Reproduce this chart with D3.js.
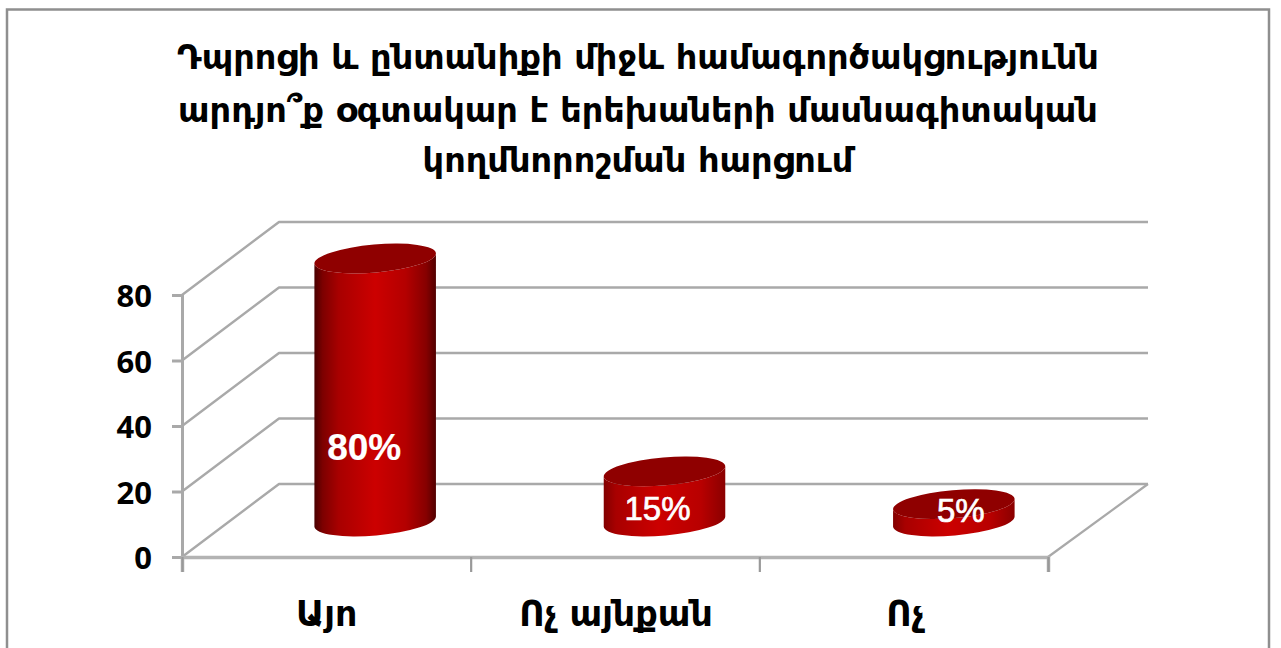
<!DOCTYPE html>
<html><head><meta charset="utf-8">
<script src="https://cdn.jsdelivr.net/npm/d3@7"></script>
<style>html,body{margin:0;padding:0;background:#fff;overflow:hidden}svg{display:block}</style>
</head><body><svg id="c" width="1281" height="648"></svg>
<script>
const titleLines = ["Դպրոցի և ընտանիքի միջև համագործակցությունն","արդյո՞ք օգտակար է երեխաների մասնագիտական","կողմնորոշման հարցում"];
const categories = ["Այո","Ոչ այնքան","Ոչ"];
const values = [80,15,5];
const valueLabels = ["80%","15%","5%"];
const yTicks = [0,20,40,60,80];

const svg = d3.select("#c");
const defs = svg.append("defs");
defs.append("filter").attr("id","soft").append("feGaussianBlur").attr("stdDeviation",0.6);
const grad = defs.append("linearGradient").attr("id","cyl");
[[0,"#4a0000"],[0.07,"#7d0000"],[0.2,"#a80000"],[0.5,"#cc0000"],[0.75,"#b40000"],[0.92,"#860000"],[1,"#520000"]]
 .forEach(([o,c])=>grad.append("stop").attr("offset",o).attr("stop-color",c));
const grad2 = defs.append("linearGradient").attr("id","cylShort");
[[0,"#820000"],[0.1,"#a80000"],[0.45,"#cc0000"],[0.8,"#b80000"],[1,"#8a0000"]]
 .forEach(([o,c])=>grad2.append("stop").attr("offset",o).attr("stop-color",c));

const frame = {l:7,t:9.5,r:1269,b:660};
svg.append("rect").attr("x",frame.l).attr("y",frame.t).attr("width",frame.r-frame.l).attr("height",frame.b-frame.t)
  .attr("fill","#fff").attr("stroke","#8f8f8f").attr("stroke-width",2.5);

const dx = 97, dy = 73, xL = 182, xR = 1048;
const y = d3.scaleLinear().domain([0,80]).range([557,295]);
const xEdge = d3.scaleLinear().domain([0,3]).range([xL,xR]);
const xBand = d3.scaleBand().domain(categories).range([xL,xR+2]);

const g = svg.append("g").attr("filter","url(#soft)");
const gridColor = "#a9a9a9";

g.append("g").selectAll("path").data(yTicks).join("path")
 .attr("fill","none").attr("stroke",gridColor).attr("stroke-width",2.4).attr("stroke-linejoin","round")
 .attr("d",d=>d3.line()([[xL,y(d)],[xL+dx,y(d)-dy],[xL+dx+869,y(d)-dy]]));
g.append("path").attr("fill","none").attr("stroke",gridColor).attr("stroke-width",2.2)
 .attr("d",d3.line()([[xR,y(0)],[xL+dx+869,y(0)-dy]]));

const axisY = g.append("g").attr("transform",`translate(${xL},0)`)
  .call(d3.axisLeft(y).tickValues(yTicks).tickSize(10).tickFormat(""));
axisY.selectAll("path,line").attr("stroke",gridColor).attr("stroke-width",3);
const axisX = g.append("g").attr("transform",`translate(0,${y(0)})`)
  .call(d3.axisBottom(xEdge).tickValues([0,1,2,3]).tickSize(15).tickFormat(""));
axisX.selectAll("path").attr("stroke","#b3b3b3").attr("stroke-width",3.5);
axisX.selectAll("line").attr("stroke","#999").attr("stroke-width",2.2);

const rx = 61, ry = 14, rot = -5;
const ex = rx*Math.cos(rot*Math.PI/180), ey = -rx*Math.sin(rot*Math.PI/180);
const cx = i => xBand(categories[i]) + xBand.bandwidth()/2 + dx/2;
const baseY = y(0) - dy/2 + 1;
const topY = v => baseY - (y(0)-y(v)) - 1;
const bars = g.append("g").selectAll("g").data(values).join("g");
bars.append("path").attr("fill",(v,i)=>i?"url(#cylShort)":"url(#cyl)")
 .attr("d",(v,i)=>{
   const c=cx(i), t=topY(v);
   return `M${c-ex},${t+ey} L${c-ex},${baseY+ey} A${rx},${ry} ${rot} 0 0 ${c+ex},${baseY-ey} L${c+ex},${t-ey} A${rx},${ry} ${rot} 0 1 ${c-ex},${t+ey} Z`;
 });
bars.append("ellipse").attr("fill","#8f0000")
 .attr("rx",rx).attr("ry",ry).attr("cx",(v,i)=>cx(i)).attr("cy",v=>topY(v))
 .attr("transform",(v,i)=>`rotate(${rot} ${cx(i)} ${topY(v)})`);

const font = "'DejaVu Sans',sans-serif";
svg.append("g").selectAll("text").data(titleLines).join("text")
 .attr("x",638).attr("y",(d,i)=>[69,122,172][i]).attr("text-anchor","middle")
 .attr("font-family",font).attr("font-weight",700).attr("font-size",33.6).attr("fill","#000")
 .text(d=>d);
svg.append("g").selectAll("text").data(yTicks).join("text")
 .attr("x",152).attr("y",d=>y(d)+12).attr("text-anchor","end")
 .attr("font-family","'Noto Sans',sans-serif").attr("font-weight",700).attr("font-size",31).attr("fill","#000")
 .text(d=>d);
svg.append("g").selectAll("text").data(categories).join("text")
 .attr("x",d=>xBand(d)+xBand.bandwidth()/2).attr("y",626).attr("text-anchor","middle")
 .attr("font-family",font).attr("font-weight",700).attr("font-size",34.8).attr("fill","#000")
 .text(d=>d);
const labelSizes = [37,33,33];
svg.append("g").selectAll("text").data(valueLabels).join("text")
 .attr("x",(d,i)=>cx(i)+[-11,-7,7][i])
 .attr("y",(d,i)=>[460,520,522][i]).attr("text-anchor","middle")
 .attr("font-family","'Liberation Sans',sans-serif").attr("font-weight",(d,i)=>i?400:700)
 .attr("font-size",(d,i)=>labelSizes[i]).attr("fill","#fff")
 .attr("stroke","#fff").attr("stroke-width",(d,i)=>i?0.7:0.2)
 .text(d=>d);
</script></body></html>
